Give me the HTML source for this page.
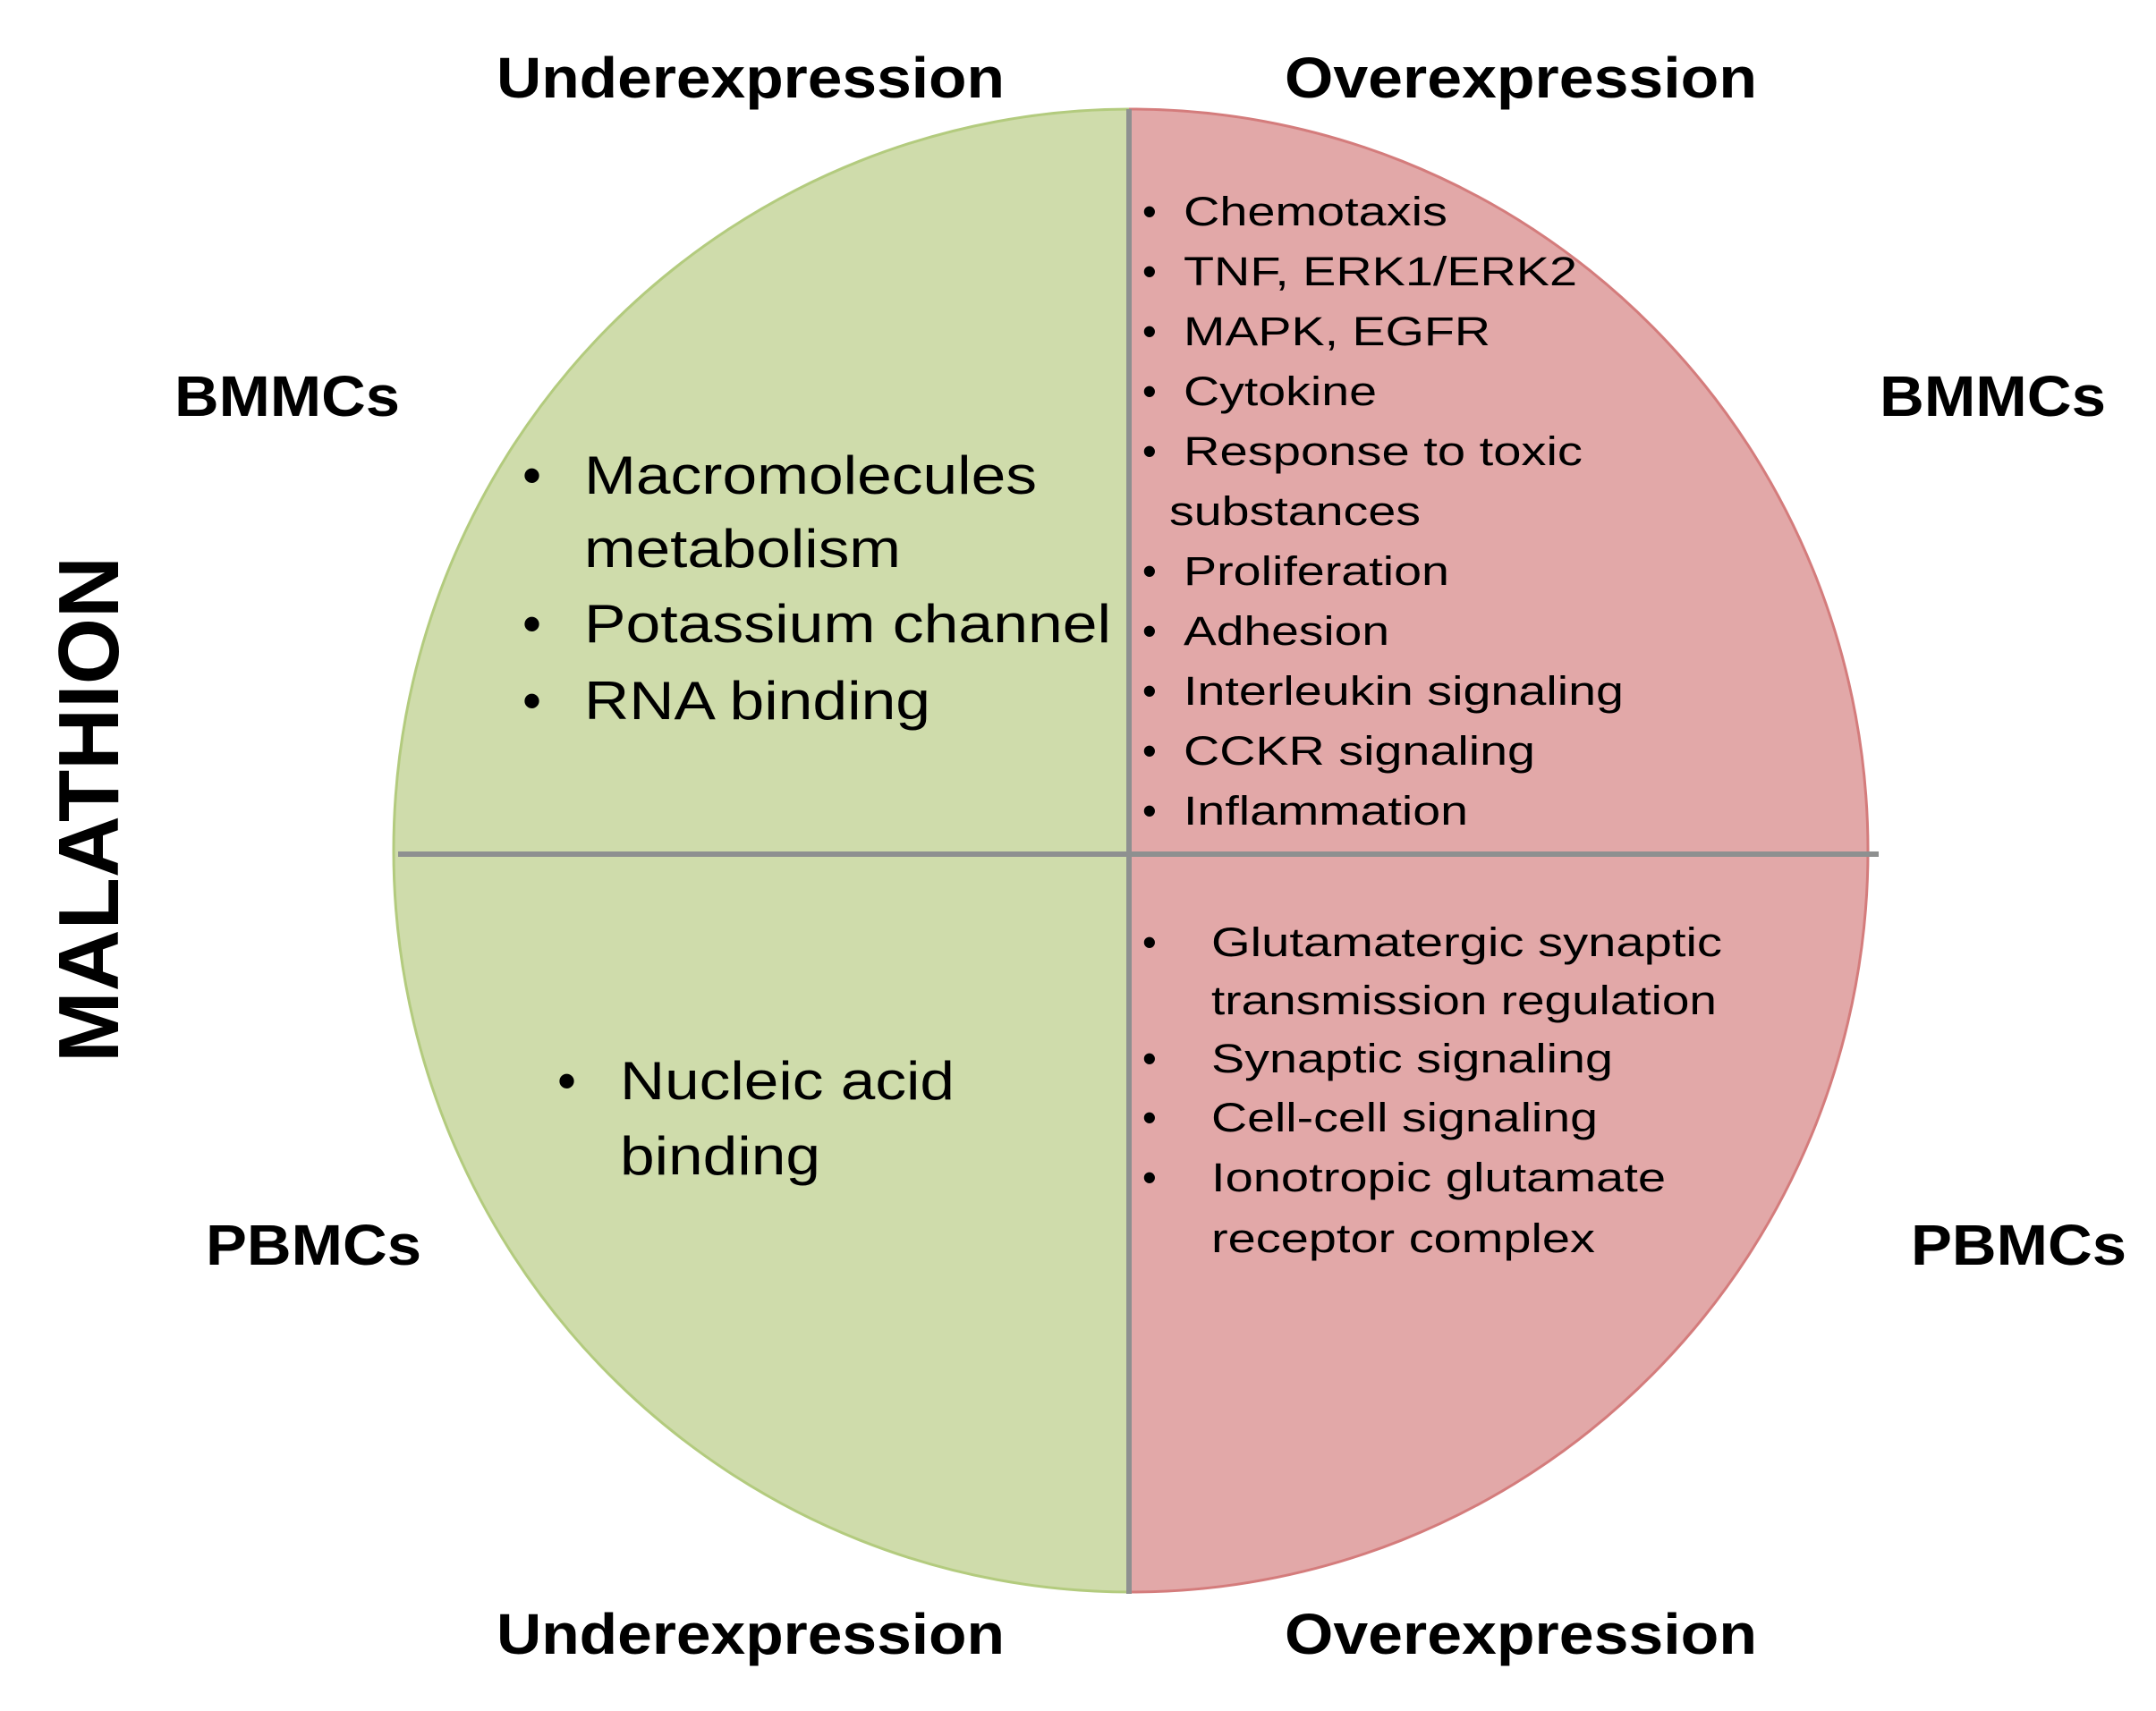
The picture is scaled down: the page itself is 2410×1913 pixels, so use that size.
<!DOCTYPE html>
<html><head><meta charset="utf-8"><style>
html,body{margin:0;padding:0;background:#fff;}
svg{display:block;}
text{font-family:"Liberation Sans",Arial,sans-serif;fill:#000;}
.h{font-weight:bold;font-size:64px;}
.r{font-size:45px;}
.l{font-size:60px;}
</style></head><body>
<svg width="2410" height="1913" viewBox="0 0 2410 1913" xmlns="http://www.w3.org/2000/svg">
<defs>
<clipPath id="cl"><rect x="0" y="0" width="1262" height="1913"/></clipPath>
<clipPath id="cr"><rect x="1262" y="0" width="1200" height="1913"/></clipPath>
</defs>
<ellipse cx="1264" cy="951" rx="824" ry="829" fill="#cfdcab" stroke="#b3cb7e" stroke-width="3" clip-path="url(#cl)"/>
<ellipse cx="1264" cy="951" rx="824" ry="829" fill="#e2a8a8" stroke="#d47c7c" stroke-width="3" clip-path="url(#cr)"/>
<line x1="1262" y1="122" x2="1262" y2="1782" stroke="#8e9090" stroke-width="6"/>
<line x1="445" y1="955" x2="2100" y2="955" stroke="#8e9090" stroke-width="6"/>

<text class="h" x="555" y="109" textLength="568" lengthAdjust="spacingAndGlyphs">Underexpression</text>
<text class="h" x="1436" y="109" textLength="528" lengthAdjust="spacingAndGlyphs">Overexpression</text>
<text class="h" x="555" y="1849" textLength="568" lengthAdjust="spacingAndGlyphs">Underexpression</text>
<text class="h" x="1436" y="1849" textLength="528" lengthAdjust="spacingAndGlyphs">Overexpression</text>
<text class="h" x="195" y="465" textLength="252" lengthAdjust="spacingAndGlyphs">BMMCs</text>
<text class="h" x="2101" y="465" textLength="253" lengthAdjust="spacingAndGlyphs">BMMCs</text>
<text class="h" x="230" y="1414" textLength="241" lengthAdjust="spacingAndGlyphs">PBMCs</text>
<text class="h" x="2136" y="1414" textLength="241" lengthAdjust="spacingAndGlyphs">PBMCs</text>
<text transform="translate(132,905) rotate(-90)" text-anchor="middle" font-weight="bold" font-size="96" textLength="566" lengthAdjust="spacingAndGlyphs">MALATHION</text>

<g class="l">
<text x="584" y="552">•</text><text x="653" y="552" textLength="506" lengthAdjust="spacingAndGlyphs">Macromolecules</text>
<text x="653" y="634" textLength="354" lengthAdjust="spacingAndGlyphs">metabolism</text>
<text x="584" y="718">•</text><text x="653" y="718" textLength="589" lengthAdjust="spacingAndGlyphs">Potassium channel</text>
<text x="584" y="804">•</text><text x="653" y="804" textLength="387" lengthAdjust="spacingAndGlyphs">RNA binding</text>
<text x="623" y="1229">•</text><text x="693" y="1229" textLength="374" lengthAdjust="spacingAndGlyphs">Nucleic acid</text>
<text x="693" y="1313" textLength="224" lengthAdjust="spacingAndGlyphs">binding</text>
</g>

<g class="r">
<text x="1277" y="252">•</text><text x="1323" y="252" textLength="295" lengthAdjust="spacingAndGlyphs">Chemotaxis</text>
<text x="1277" y="319">•</text><text x="1323" y="319" textLength="440" lengthAdjust="spacingAndGlyphs">TNF, ERK1/ERK2</text>
<text x="1277" y="386">•</text><text x="1323" y="386" textLength="343" lengthAdjust="spacingAndGlyphs">MAPK, EGFR</text>
<text x="1277" y="453">•</text><text x="1323" y="453" textLength="216" lengthAdjust="spacingAndGlyphs">Cytokine</text>
<text x="1277" y="520">•</text><text x="1323" y="520" textLength="446" lengthAdjust="spacingAndGlyphs">Response to toxic</text>
<text x="1307" y="587" textLength="281" lengthAdjust="spacingAndGlyphs">substances</text>
<text x="1277" y="654">•</text><text x="1323" y="654" textLength="297" lengthAdjust="spacingAndGlyphs">Proliferation</text>
<text x="1277" y="721">•</text><text x="1323" y="721" textLength="230" lengthAdjust="spacingAndGlyphs">Adhesion</text>
<text x="1277" y="788">•</text><text x="1323" y="788" textLength="492" lengthAdjust="spacingAndGlyphs">Interleukin signaling</text>
<text x="1277" y="855">•</text><text x="1323" y="855" textLength="393" lengthAdjust="spacingAndGlyphs">CCKR signaling</text>
<text x="1277" y="922">•</text><text x="1323" y="922" textLength="318" lengthAdjust="spacingAndGlyphs">Inflammation</text>

<text x="1277" y="1069">•</text><text x="1354" y="1069" textLength="571" lengthAdjust="spacingAndGlyphs">Glutamatergic synaptic</text>
<text x="1354" y="1134" textLength="565" lengthAdjust="spacingAndGlyphs">transmission regulation</text>
<text x="1277" y="1199">•</text><text x="1354" y="1199" textLength="449" lengthAdjust="spacingAndGlyphs">Synaptic signaling</text>
<text x="1277" y="1265">•</text><text x="1354" y="1265" textLength="432" lengthAdjust="spacingAndGlyphs">Cell-cell signaling</text>
<text x="1277" y="1332">•</text><text x="1354" y="1332" textLength="508" lengthAdjust="spacingAndGlyphs">Ionotropic glutamate</text>
<text x="1354" y="1400" textLength="429" lengthAdjust="spacingAndGlyphs">receptor complex</text>
</g>
</svg>
</body></html>
